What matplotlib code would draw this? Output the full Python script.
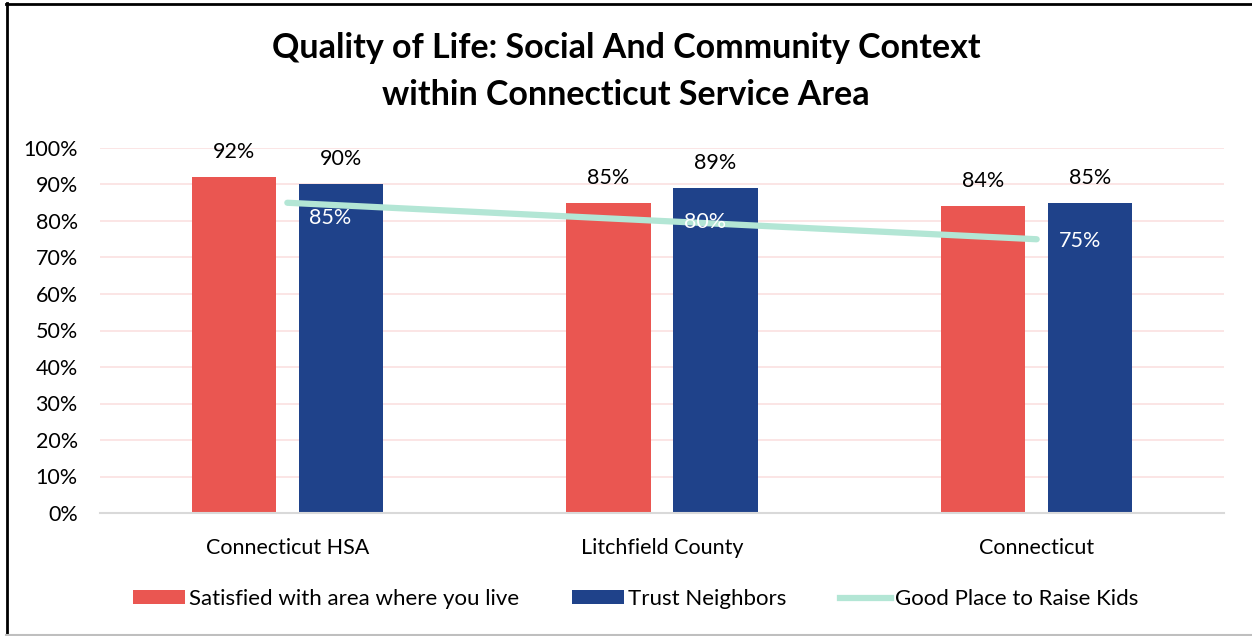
import matplotlib
matplotlib.use("Agg")
import matplotlib.pyplot as plt
from matplotlib.lines import Line2D
from matplotlib.patches import Patch
import numpy as np

categories = ["Connecticut HSA", "Litchfield County", "Connecticut"]
satisfied = [92, 85, 84]
trust = [90, 89, 85]
good_place = [85, 80, 75]
y_ticks = [0, 10, 20, 30, 40, 50, 60, 70, 80, 90, 100]

RED = "#EA5651"
BLUE = "#1F428A"
MINT = "#B3E6D5"
GRID = "#FBE0E0"

plt.rcParams["font.family"] = ["Lato", "DejaVu Sans"]

W, H = 1252, 636
fig = plt.figure(figsize=(W / 100, H / 100), dpi=100)
ax = fig.add_axes([100 / W, (H - 513) / H, 1124 / W, 365 / H])

x = np.arange(len(categories))
bw = 0.225
off = 0.1425
ax.bar(x - off, satisfied, bw, color=RED, zorder=2)
ax.bar(x + off, trust, bw, color=BLUE, zorder=2)
ax.plot(x, good_place, color=MINT, lw=4.5, solid_capstyle="round", zorder=3)

for xi, v in zip(x - off, satisfied):
    ax.annotate(f"{v}%", (xi, v), xytext=(0, 18), textcoords="offset points",
                ha="center", va="center", fontsize=15.5, color="black")
for xi, v in zip(x + off, trust):
    ax.annotate(f"{v}%", (xi, v), xytext=(0, 18), textcoords="offset points",
                ha="center", va="center", fontsize=15.5, color="black")

# line labels sit to the right of each point
label_dy = [-11, -1, -1]
for xi, v, dy in zip(x, good_place, label_dy):
    ax.annotate(f"{v}%", (xi, v), xytext=(31, dy), textcoords="offset points",
                ha="center", va="center", fontsize=15.5, color="white", zorder=4)

ax.set_xlim(-0.5, len(categories) - 0.5)
ax.set_ylim(0, 100)
ax.set_yticks(y_ticks)
ax.set_yticklabels([f"{t}%" for t in y_ticks], fontsize=15.5)
ax.set_xticks(x)
ax.set_xticklabels(categories, fontsize=15.5)
ax.tick_params(axis="both", length=0)
ax.tick_params(axis="y", pad=16)
ax.tick_params(axis="x", pad=18)
ax.grid(axis="y", color=GRID, lw=1.2, zorder=0)
for s in ["top", "right", "left"]:
    ax.spines[s].set_visible(False)
ax.spines["bottom"].set_color("#D9D9D9")
ax.spines["bottom"].set_linewidth(1.5)

fig.text(0.5, (H - 48) / H, "Quality of Life: Social And Community Context",
         ha="center", va="center", fontsize=24.5, fontweight="bold")
fig.text(0.5, (H - 95) / H, "within Connecticut Service Area",
         ha="center", va="center", fontsize=24.5, fontweight="bold")

handles = [
    Patch(facecolor=RED, label="Satisfied with area where you live"),
    Patch(facecolor=BLUE, label="Trust Neighbors"),
    Line2D([0], [0], color=MINT, lw=4.5, label="Good Place to Raise Kids"),
]
fig.legend(handles=handles, loc="center", bbox_to_anchor=(636 / W, (H - 599) / H),
           ncol=3, frameon=False, fontsize=16, handlelength=2.3, handleheight=0.6,
           handletextpad=0.2, columnspacing=2.4)

# outer frame
fig.add_artist(Line2D([6 / W, 1], [(H - 3.5) / H] * 2, color="black", lw=2))
fig.add_artist(Line2D([6.5 / W] * 2, [0, (H - 3) / H], color="black", lw=2))
fig.add_artist(Line2D([6 / W, 1], [1.5 / H] * 2, color="#BFBFBF", lw=1.5))

fig.savefig("out.png", dpi=100, facecolor="white")
